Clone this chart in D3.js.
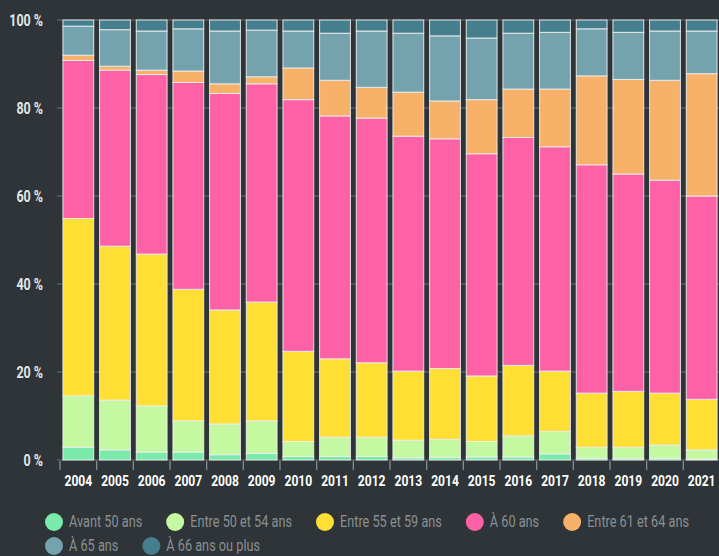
<!DOCTYPE html>
<html>
<head>
<meta charset="utf-8">
<script src="https://cdn.jsdelivr.net/npm/d3@7"></script>
<style>
  html, body { margin: 0; padding: 0; background: #2e3437; }
  svg { display: block; font-family: Roboto, "DejaVu Sans", sans-serif; }
</style>
</head>
<body>
<div class="chart"></div>
<script>
// years on the x axis
var years = ["2004","2005","2006","2007","2008","2009","2010","2011","2012","2013",
             "2014","2015","2016","2017","2018","2019","2020","2021"];

// share of each age group (%), one value per year
var avant50    = [2.9,2.3,1.8,1.8,1.2,1.5,0.8,0.8,0.8,0.5,0.6,0.7,0.7,1.4,0.4,0.3,0.4,0.2];
var entre50_54 = [11.7,11.3,10.5,7.1,7.0,7.4,3.4,4.4,4.4,4.0,4.1,3.5,4.8,5.1,2.5,2.6,3.0,2.1];
var entre55_59 = [40.3,35.0,34.5,29.9,25.9,27.0,20.5,17.8,16.9,15.7,16.1,14.9,16.0,13.7,12.3,12.7,11.8,11.5];
var a60        = [35.9,40.0,40.8,47.0,49.2,49.6,57.2,55.2,55.6,53.4,52.2,50.5,51.8,51.0,51.9,49.4,48.4,46.2];
var entre61_64 = [1.2,0.9,1.0,2.6,2.2,1.6,7.2,8.1,7.0,10.0,8.6,12.3,11.0,13.1,20.2,21.5,22.7,27.8];
var a65        = [6.6,8.3,8.9,9.6,12.0,10.6,8.4,10.7,12.8,13.4,14.8,14.0,12.7,12.9,10.7,10.7,11.2,9.7];
var a66plus    = [1.4,2.2,2.5,2.0,2.5,2.3,2.5,3.0,2.5,3.0,3.6,4.1,3.0,2.8,2.0,2.8,2.5,2.5];

var seriesLabels = ["Avant 50 ans","Entre 50 et 54 ans","Entre 55 et 59 ans","À 60 ans",
                    "Entre 61 et 64 ans","À 65 ans","À 66 ans ou plus"];
var seriesValues = [avant50, entre50_54, entre55_59, a60, entre61_64, a65, a66plus];
var yTicks = [0,20,40,60,80,100];

var colors = ["#79eaa9","#c4f9a2","#ffdf33","#ff61a6","#f7b168","#74a3ae","#457f8d"];

var width = 719,
    height = 556,
    squeeze = 0.78;   // condensed look for the text

// build rows for d3.stack
var table = years.map(function(y, i){
  var row = {year: y};
  seriesLabels.forEach(function(k, j){ row[k] = seriesValues[j][i]; });
  return row;
});

var svg = d3.select(".chart").append("svg")
  .attr("width", width)
  .attr("height", height);

var x = d3.scaleBand()
  .domain(years)
  .range([60, 720])
  .paddingInner(0.16)
  .paddingOuter(0.08);

var y = d3.scaleLinear()
  .domain([0,100])
  .range([460, 20]);

function place(px, py){
  return "translate(" + px + "," + py + ") scale(" + squeeze + ",1)";
}

//gridlines + y labels
var grid = svg.append("g");
grid.selectAll("line")
  .data(yTicks).enter()
  .append("line")
  .attr("x1", 57).attr("x2", 720)
  .attr("y1", function(d){ return y(d); })
  .attr("y2", function(d){ return y(d); })
  .attr("stroke", "#6b7276")
  .attr("stroke-width", 1.2);
grid.selectAll("text")
  .data(yTicks).enter()
  .append("text")
  .attr("transform", function(d){ return place(43, y(d)); })
  .attr("dy", "0.36em")
  .attr("text-anchor", "end")
  .attr("fill", "#e4e6e7")
  .attr("font-size", 16)
  .attr("font-weight", "bold")
  .text(function(d){ return d + " %"; });

// stacked bars
var stack = d3.stack().keys(seriesLabels)(table);
var layers = svg.selectAll(".layer")
  .data(stack).enter()
  .append("g")
  .attr("class", "layer")
  .attr("fill", function(d, i){ return colors[i]; });
layers.selectAll("rect")
  .data(function(d){ return d; }).enter()
  .append("rect")
  .attr("x", function(d){ return x(d.data.year); })
  .attr("width", x.bandwidth())
  .attr("y", function(d){ return y(d[1]); })
  .attr("height", function(d){ return y(d[0]) - y(d[1]); })
  .attr("stroke", "#eef0f1")
  .attr("stroke-opacity", 0.9)
  .attr("stroke-width", 1);

// x axis: ticks between the bars, years centred
var gap = x.step() * x.paddingInner();
var xa = svg.append("g");
xa.selectAll("line")
  .data(years).enter()
  .append("line")
  .attr("x1", function(d){ return x(d) - gap / 2; })
  .attr("x2", function(d){ return x(d) - gap / 2; })
  .attr("y1", 461).attr("y2", 470)
  .attr("stroke", "#8d9497")
  .attr("stroke-width", 1.2);
xa.selectAll("text")
  .data(years).enter()
  .append("text")
  .attr("transform", function(d){ return place(x(d) + x.bandwidth() / 2, 486); })
  .attr("text-anchor", "middle")
  .attr("fill", "#ffffff")
  .attr("font-size", 15.5)
  .attr("font-weight", "bold")
  .text(function(d){ return d; });

// legend, flowed in rows
var legend = svg.append("g");
var lx = 45, ly = 522;
seriesLabels.forEach(function(lab, i){
  var item = legend.append("g");
  var t = item.append("text")
    .attr("dy", "0.33em")
    .attr("fill", "#8b9094")
    .attr("font-size", 16.3)
    .text(lab);
  var w = t.node().getComputedTextLength() * squeeze;
  if (lx + 24 + w > width - 8) { lx = 45; ly += 24; }
  item.append("circle")
    .attr("cx", lx + 9)
    .attr("cy", ly)
    .attr("r", 9)
    .attr("fill", colors[i]);
  t.attr("transform", place(lx + 24, ly));
  lx = lx + 24 + w + 24;
});
</script>
</body>
</html>
